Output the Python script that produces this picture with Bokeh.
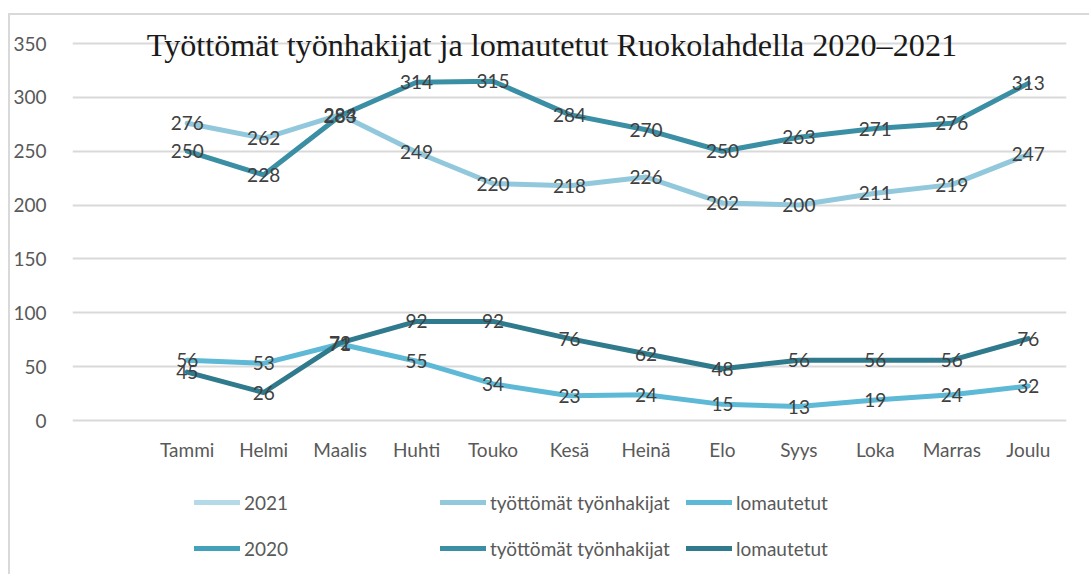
from bokeh.plotting import figure
from bokeh.models import (FactorRange, Range1d, Legend, LegendItem,
                          FixedTicker)
from bokeh.core.properties import value
from bokeh.embed import file_html
from bokeh.resources import INLINE

# ---- data ----
months = ["Tammi", "Helmi", "Maalis", "Huhti", "Touko", "Kesä", "Heinä",
          "Elo", "Syys", "Loka", "Marras", "Joulu"]
tyo_2021 = [276, 262, 284, 249, 220, 218, 226, 202, 200, 211, 219, 247]
lom_2021 = [56, 53, 71, 55, 34, 23, 24, 15, 13, 19, 24, 32]
tyo_2020 = [250, 228, 283, 314, 315, 284, 270, 250, 263, 271, 276, 313]
lom_2020 = [45, 26, 72, 92, 92, 76, 62, 48, 56, 56, 56, 76]
# header series "2021" / "2020" have no values (legend entries only)
empty_series = [float("nan")] * len(months)
y_ticks = [0, 50, 100, 150, 200, 250, 300, 350]
title_text = "Työttömät työnhakijat ja lomautetut Ruokolahdella 2020–2021"
legend_labels = ["2021", "työttömät työnhakijat", "lomautetut",
                 "2020", "työttömät työnhakijat", "lomautetut"]

# ---- styles ----
c_leg21 = "#b4d9e7"
c_tyo21 = "#92c8dc"
c_lom21 = "#5db9d5"
c_leg20 = "#43a1bc"
c_tyo20 = "#3b8fa5"
c_lom20 = "#2f7a8c"
sans = "Lato"
grey = "#595959"

p = figure(width=1081, height=561,
           x_range=FactorRange(factors=[" "] + months),
           y_range=Range1d(-144.8, 376.0),
           output_backend="svg", toolbar_location=None,
           min_border_left=57, min_border_right=25,
           min_border_top=0, min_border_bottom=0,
           margin=(13, 0, 0, 8))
p.styles = {"border-top": "2px solid #d9d9d9",
            "border-left": "2px solid #d9d9d9"}
p.outline_line_color = None
p.background_fill_color = "white"
p.border_fill_color = "white"

p.xgrid.grid_line_color = None
p.ygrid.grid_line_color = "#d9d9d9"
p.ygrid.grid_line_width = 2

p.yaxis.ticker = FixedTicker(ticks=y_ticks)
for ax in (p.xaxis[0], p.yaxis[0]):
    ax.axis_line_color = None
    ax.major_tick_line_color = None
    ax.minor_tick_line_color = None
    ax.major_label_text_font = sans
    ax.major_label_text_font_size = "19px"
    ax.major_label_text_color = grey
p.yaxis.major_label_standoff = 20
p.xaxis.major_label_standoff = 11
p.xaxis.fixed_location = 0

lw = 5
kw = dict(line_width=lw, line_join="round", line_cap="round")

r_leg21 = p.line(x=months, y=empty_series, line_color=c_leg21, **kw)
r_tyo21 = p.line(x=months, y=tyo_2021, line_color=c_tyo21, **kw)
r_lom21 = p.line(x=months, y=lom_2021, line_color=c_lom21, **kw)
r_leg20 = p.line(x=months, y=empty_series, line_color=c_leg20, **kw)
r_tyo20 = p.line(x=months, y=tyo_2020, line_color=c_tyo20, **kw)
r_lom20 = p.line(x=months, y=lom_2020, line_color=c_lom20, **kw)

for series in (tyo_2021, lom_2021, tyo_2020, lom_2020):
    p.text(x=months, y=series, text=[str(v) for v in series],
           text_align="center", text_baseline="middle",
           text_font=value(sans), text_font_size="19px", text_color="#404040")

p.text(x=[6.27], y=[348.2], text=[title_text],
       text_align="center", text_baseline="middle",
       text_font=value("Liberation Serif"), text_font_size="32.2px",
       text_color="#1a1a1a")

renderers = [r_leg21, r_tyo21, r_lom21, r_leg20, r_tyo20, r_lom20]
legend = Legend(items=[LegendItem(label=lab, renderers=[r])
                       for lab, r in zip(legend_labels, renderers)],
                ncols=3, orientation="horizontal",
                location=(122, 8),
                glyph_width=46, glyph_height=40, label_width=190,
                label_standoff=4, spacing=6, padding=0, margin=0,
                border_line_color=None, background_fill_alpha=0,
                label_text_font=sans, label_text_font_size="19px",
                label_text_color=grey)
p.add_layout(legend)

open("out.html", "w").write(file_html(p, INLINE))
